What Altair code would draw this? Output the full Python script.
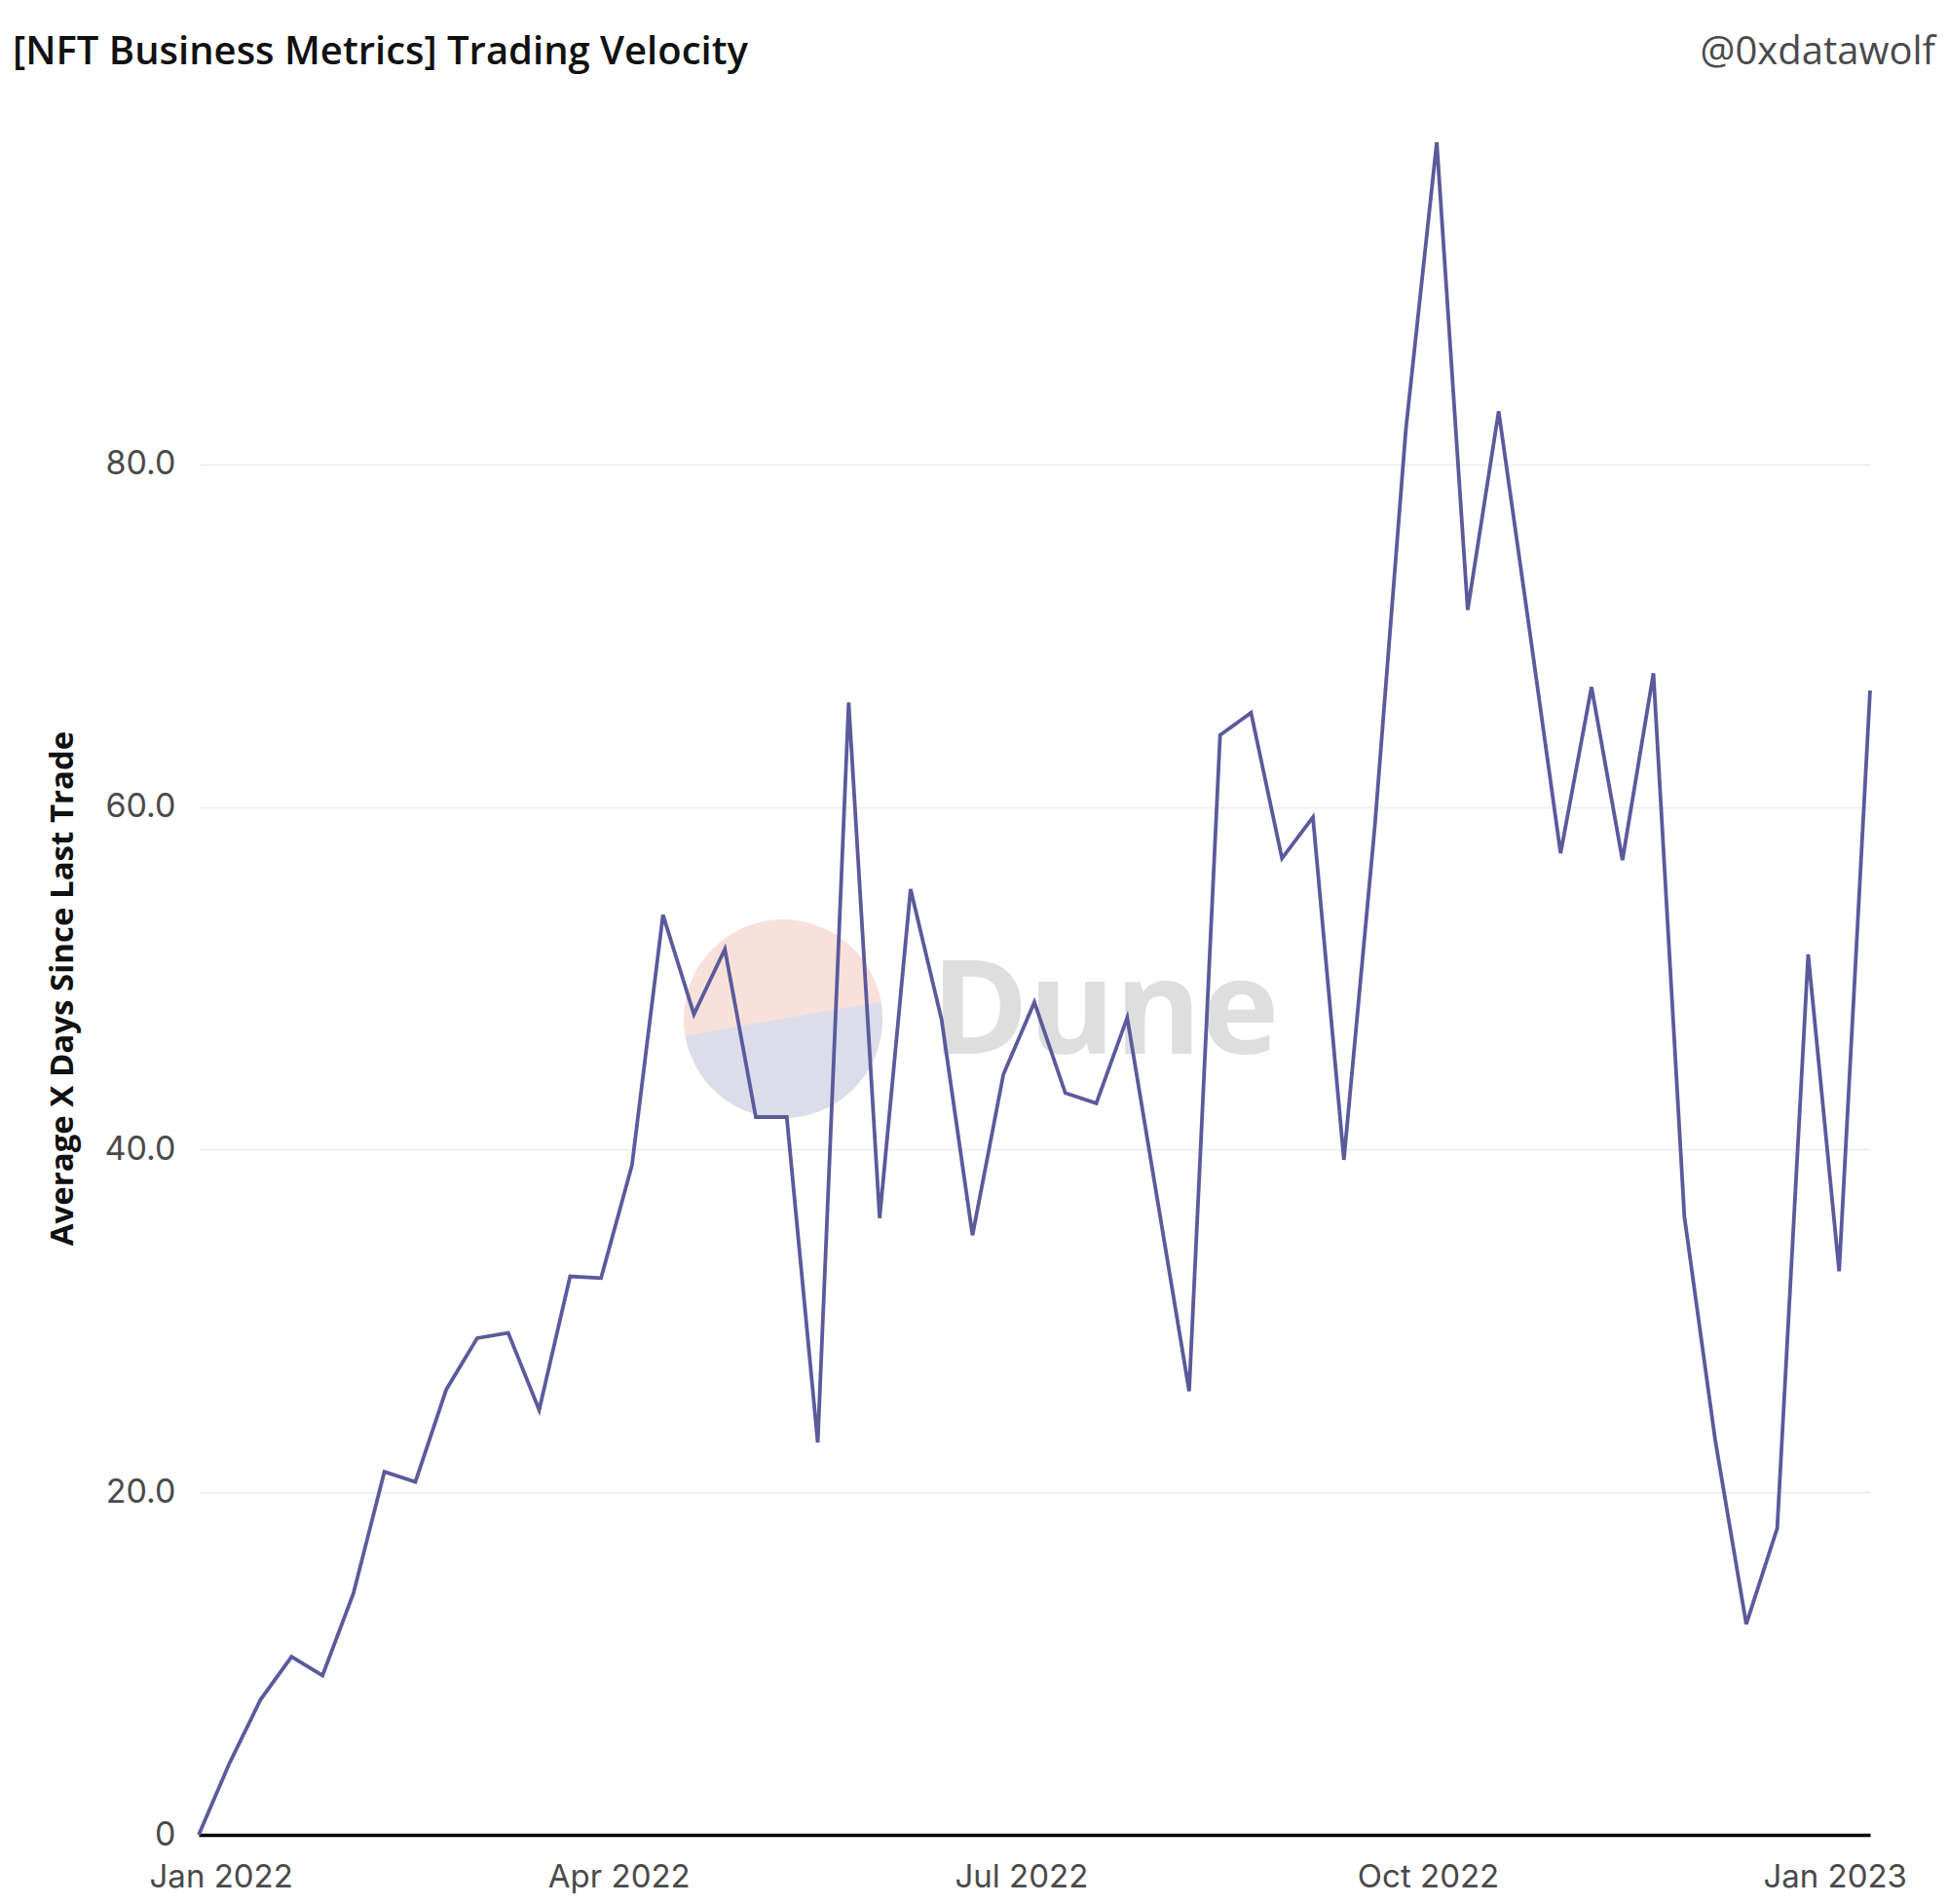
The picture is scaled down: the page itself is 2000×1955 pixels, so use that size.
import altair as alt
import pandas as pd

# ---- data ----
weeks = [
    "2021-12-27", "2022-01-03", "2022-01-10", "2022-01-17", "2022-01-24", "2022-01-31",
    "2022-02-07", "2022-02-14", "2022-02-21", "2022-02-28", "2022-03-07", "2022-03-14",
    "2022-03-21", "2022-03-28", "2022-04-04", "2022-04-11", "2022-04-18", "2022-04-25",
    "2022-05-02", "2022-05-09", "2022-05-16", "2022-05-23", "2022-05-30", "2022-06-06",
    "2022-06-13", "2022-06-20", "2022-06-27", "2022-07-04", "2022-07-11", "2022-07-18",
    "2022-07-25", "2022-08-01", "2022-08-08", "2022-08-15", "2022-08-22", "2022-08-29",
    "2022-09-05", "2022-09-12", "2022-09-19", "2022-09-26", "2022-10-03", "2022-10-10",
    "2022-10-17", "2022-10-24", "2022-10-31", "2022-11-07", "2022-11-14", "2022-11-21",
    "2022-11-28", "2022-12-05", "2022-12-12", "2022-12-19", "2022-12-26", "2023-01-02",
    "2023-01-09",
]
velocity = [
    0.0, 4.2, 7.9, 10.4, 9.3, 14.1, 21.2, 20.6, 26.0, 29.0, 29.3, 24.8,
    32.6, 32.5, 39.1, 53.7, 47.9, 51.7, 41.9, 41.9, 22.9, 66.1, 36.0, 55.2,
    47.6, 35.0, 44.4, 48.6, 43.3, 42.7, 47.7, 36.8, 25.9, 64.2, 65.5, 57.0,
    59.4, 39.4, 58.9, 82.0, 98.8, 71.5, 83.1, 70.3, 57.3, 67.0, 56.9, 67.8,
    36.1, 23.0, 12.3, 17.9, 51.4, 32.9, 66.8,
]
y_ticks = [0, 20, 40, 60, 80]
x_tick_dates = [(2022, 1), (2022, 4), (2022, 7), (2022, 10), (2023, 1)]

title_text = "[NFT Business Metrics] Trading Velocity"
handle_text = "@0xdatawolf"
y_title = "Average X Days Since Last Trade"

LINE = "#5b5a9b"
W, H = 1716, 1759

df = pd.DataFrame({"week": weeks, "velocity": velocity})
one = pd.DataFrame({"k": [0]})

x_enc = alt.X(
    "week:T",
    scale=alt.Scale(
        type="utc",
        domain=[alt.DateTime(year=2021, month=12, date=27, utc=True),
                alt.DateTime(year=2023, month=1, date=9, utc=True)],
        nice=False,
    ),
    axis=alt.Axis(
        values=[alt.DateTime(year=y, month=m, date=1, utc=True) for y, m in x_tick_dates],
        labelExpr="utcFormat(datum.value, '%b %Y')",
        title=None,
        grid=False,
        ticks=False,
        domain=True,
        domainColor="#000000",
        domainWidth=3.5,
        labelFont="Inter",
        labelFontSize=33,
        labelColor="#4a4a4a",
        labelPadding=27,
        labelAlign="center",
        labelFlush=False,
        labelOverlap=False,
    ),
)
y_enc = alt.Y(
    "velocity:Q",
    scale=alt.Scale(domain=[0, 100], nice=False, zero=True),
    axis=alt.Axis(
        values=y_ticks,
        labelExpr="datum.value == 0 ? '0' : format(datum.value, '.1f')",
        title=y_title,
        titleFont="Open Sans",
        titleFontSize=33,
        titleFontWeight=700,
        titleColor="#111111",
        titleX=-140,
        titleY=H / 2 + 10,
        titleAngle=-90,
        titleAlign="center",
        titleBaseline="middle",
        grid=True,
        gridColor="#ececec",
        gridWidth=1.5,
        ticks=False,
        domain=False,
        labelFont="Inter",
        labelFontSize=34,
        labelColor="#4a4a4a",
        labelPadding=24,
    ),
)

# Dune watermark (decoration)
wm_pink = alt.Chart(one).mark_arc(
    radius=102, theta=0, theta2=6.2832, color="#f9e1db"
).encode(x=alt.value(600), y=alt.value(921))
wm_blue = alt.Chart(one).mark_arc(
    radius=102, theta=1.40, theta2=4.54, color="#dcdcea"
).encode(x=alt.value(600), y=alt.value(921))
wm_text = alt.Chart(one).mark_text(
    text="Dune", font="Open Sans", fontSize=135, fontWeight=700,
    color="#dedede", align="left", baseline="middle",
).encode(x=alt.value(752), y=alt.value(916))

line = alt.Chart(df).mark_line(color=LINE, strokeWidth=3.8).encode(x=x_enc, y=y_enc)

title_mark = alt.Chart(one).mark_text(
    text=title_text, font="Open Sans", fontSize=40, fontWeight=600, color="#111111",
    align="left", baseline="middle",
).encode(x=alt.value(-191), y=alt.value(-71))

handle = alt.Chart(one).mark_text(
    text=handle_text, font="Open Sans", fontSize=40, color="#4a4a4a",
    align="right", baseline="middle",
).encode(x=alt.value(1783), y=alt.value(-71))

chart = alt.layer(wm_pink, wm_blue, wm_text, line, title_mark, handle).properties(
    width=W,
    height=H,
    padding={"left": 196, "top": 117, "right": 72, "bottom": 60},
    autosize=alt.AutoSizeParams(type="none"),
).configure(background="#ffffff").configure_view(stroke=None, strokeWidth=0)

chart.save("out.html", embed_options={"renderer": "svg", "actions": False})
